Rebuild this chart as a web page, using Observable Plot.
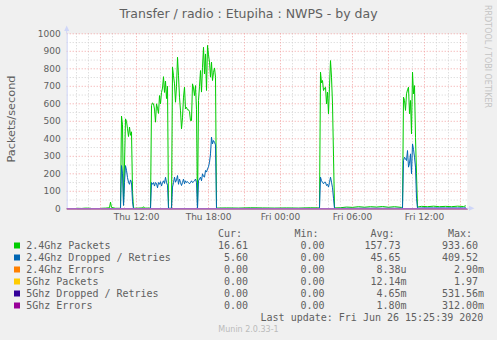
<!DOCTYPE html>
<html><head><meta charset="utf-8">
<script src="https://cdn.jsdelivr.net/npm/d3@7"></script>
<script src="https://cdn.jsdelivr.net/npm/@observablehq/plot@0.6"></script>
<style>
html,body{margin:0;padding:0;background:#f0f0f0;}
#wrap{position:relative;width:497px;height:340px;overflow:hidden;background:#f0f0f0;}
#chart svg{display:block;}
#over{position:absolute;left:0;top:0;font-family:"DejaVu Sans",sans-serif;}
</style></head><body>
<div id="wrap"><div id="chart"></div><svg id="over" width="497" height="340"></svg></div>
<script>
const title = "Transfer / radio : Etupiha : NWPS - by day";
const yLabel = "Packets/second";
const watermark = "RRDTOOL / TOBI OETIKER";
const lastUpdate = "Last update: Fri Jun 26 15:25:39 2020";
const footer = "Munin 2.0.33-1";

const seriesNames = ["2.4Ghz Packets","2.4Ghz Dropped / Retries","2.4Ghz Errors","5Ghz Packets","5Ghz Dropped / Retries","5Ghz Errors"];
const seriesColors = ["#00CC00","#0066B3","#FF8000","#FFCC00","#330099","#990099"];
const statHeaders = ["Cur:","Min:","Avg:","Max:"];
const curVals = ["16.61","5.60","0.00","0.00","0.00","0.00"];
const minVals = ["0.00","0.00","0.00","0.00","0.00","0.00"];
const avgVals = ["157.73","45.65","8.38u","12.14m","4.65m","1.80m"];
const maxVals = ["933.60","409.52","2.90m","1.97","531.56m","312.00m"];

const yTicks = [0,100,200,300,400,500,600,700,800,900,1000];
const xTickLabels = ["Thu 12:00","Thu 18:00","Fri 00:00","Fri 06:00","Fri 12:00"];
const domainStart = "Thu 06:13:30";
const domainEnd = "Fri 15:33:30";

const times = [
"Thu 07:05","Thu 07:25","Thu 07:45","Thu 08:10","Thu 08:35",
"Thu 09:05","Thu 09:25","Thu 09:45","Thu 09:50","Thu 09:55","Thu 10:15","Thu 10:40",
"Thu 10:45","Thu 10:50","Thu 10:55","Thu 11:00","Thu 11:05","Thu 11:10","Thu 11:15","Thu 11:20","Thu 11:25","Thu 11:30","Thu 11:35","Thu 11:40","Thu 11:45",
"Thu 12:10","Thu 12:30","Thu 12:35","Thu 12:40","Thu 13:10",
"Thu 13:15","Thu 13:20","Thu 13:25","Thu 13:30","Thu 13:35","Thu 13:40","Thu 13:45","Thu 13:50","Thu 13:55","Thu 14:00","Thu 14:05","Thu 14:10","Thu 14:15","Thu 14:20","Thu 14:25","Thu 14:30","Thu 14:35","Thu 14:40","Thu 14:55",
"Thu 15:00","Thu 15:05","Thu 15:10","Thu 15:15","Thu 15:20","Thu 15:25","Thu 15:30","Thu 15:35","Thu 15:40","Thu 15:45","Thu 15:50","Thu 15:55","Thu 16:00","Thu 16:05","Thu 16:10","Thu 16:15","Thu 16:20","Thu 16:25","Thu 16:30","Thu 16:35","Thu 16:40","Thu 16:45","Thu 16:50","Thu 16:55","Thu 17:00","Thu 17:05",
"Thu 17:10","Thu 17:15","Thu 17:20","Thu 17:25","Thu 17:30","Thu 17:35","Thu 17:40","Thu 17:45","Thu 17:50","Thu 17:55","Thu 18:00","Thu 18:05","Thu 18:10","Thu 18:15","Thu 18:20","Thu 18:25","Thu 18:30","Thu 18:35","Thu 18:40",
"Thu 19:30","Thu 20:30","Thu 21:30","Thu 22:30","Thu 23:30","Fri 00:30","Fri 01:30","Fri 02:30","Fri 03:15",
"Fri 03:20","Fri 03:25","Fri 03:30","Fri 03:35","Fri 03:40","Fri 03:45","Fri 03:50","Fri 03:55","Fri 04:00","Fri 04:05","Fri 04:10","Fri 04:15","Fri 04:20","Fri 04:25","Fri 04:30",
"Fri 05:00","Fri 05:30","Fri 06:00","Fri 06:30","Fri 07:00","Fri 07:30","Fri 08:00","Fri 08:30","Fri 09:00","Fri 09:30","Fri 10:05","Fri 10:10",
"Fri 10:15","Fri 10:20","Fri 10:25","Fri 10:30","Fri 10:35","Fri 10:40","Fri 10:45","Fri 10:50","Fri 10:55","Fri 11:00","Fri 11:05","Fri 11:10","Fri 11:15","Fri 11:20","Fri 11:25",
"Fri 11:45","Fri 12:15","Fri 12:45","Fri 13:15","Fri 13:45","Fri 14:15","Fri 14:45","Fri 15:15","Fri 15:25"
];
const packets24 = [
3,2,4,3,null,
3,4,6,38,8,3,3,
530,480,20,250,514,500,457,413,467,420,440,100,3,
4,5,12,4,4,
590,605,600,570,495,600,575,545,647,600,665,690,755,665,730,630,700,3,3,
809,760,714,609,700,866,760,638,560,457,520,638,695,571,580,566,566,555,504,504,714,690,647,704,566,3,
619,700,790,667,809,923,771,885,676,933.6,880,838,752,838,733,780,805,752,4,
5,4,6,5,4,5,4,6,5,
781,720,733,676,690,695,600,667,543,700,847,752,600,300,5,
6,10,8,12,9,12,10,13,9,12,8,10,
638,619,562,657,680,695,543,619,428,781,657,704,409,200,10,
14,12,15,12,14,12,15,13,16.61
];
const dropped24 = [
1,1,1,1,null,
1,1,1,2,1,1,1,
247,200,20,150,247,220,178,152,140,165,150,40,1,
1,1,1,1,1,
150,140,150,130,150,145,120,150,140,155,130,150,160,145,180,150,135,1,1,
124,150,181,152,165,190,140,170,150,133,150,170,143,160,150,155,150,143,150,160,150,155,160,170,150,1,
160,170,181,160,200,185,181,219,210,228,240,266,314,409.5,371,390,380,365,2,
2,2,2,2,2,2,2,2,2,
181,160,152,143,152,152,133,140,124,150,181,152,120,60,2,
2,3,2,3,3,3,3,3,3,3,3,3,
276,295,285,276,333,238,260,314,200,371,340,295,238,60,3,
5,5,5,5,5,5,5,5,5.6
];

function parseT(s) {
  const [d, t] = s.split(" ");
  const [h, m, sec = 0] = t.split(":").map(Number);
  return new Date(2020, 5, d === "Thu" ? 25 : 26, h, m, sec);
}
const x0 = parseT(domainStart), x1 = parseT(domainEnd);
const data = times.map((t, i) => ({t: parseT(t), g: packets24[i], b: dropped24[i]}));
const zeroData = [{t: x0, v: 0}, {t: x1, v: 0}];
const hours = d3.timeHour.range(x0, x1);
const minorX = hours.filter(d => d.getHours() % 3 !== 0);
const majorX = hours.filter(d => d.getHours() % 3 === 0);
const minorY = yTicks.slice(0, -1).map(v => v + 50);
const majorY = yTicks.slice(1);
const xTicks = xTickLabels.map(parseT);

const gridMinor = "#d2d2d2", gridMajor = "#f2a3a3", axisCol = "#CFD6F8";

const chart = Plot.plot({
  width: 497, height: 225,
  marginLeft: 66.7, marginRight: 30.3, marginTop: 33.3, marginBottom: 16.7,
  style: {background: "transparent", fontFamily: "DejaVu Sans", fontSize: "9px", color: "#606060", overflow: "visible"},
  x: {type: "time", domain: [x0, x1]},
  y: {domain: [0, 1000]},
  marks: [
    Plot.frame({fill: "white", stroke: "none"}),
    Plot.ruleY(minorY, {stroke: gridMinor, strokeDasharray: "1,2"}),
    Plot.ruleX(minorX, {stroke: gridMinor, strokeDasharray: "1,2"}),
    Plot.ruleY(majorY, {stroke: gridMajor, strokeDasharray: "1,2"}),
    Plot.ruleX(majorX, {stroke: gridMajor, strokeDasharray: "1,2"}),
    Plot.ruleX([x0], {stroke: axisCol}),
    Plot.ruleY([0], {stroke: axisCol}),
    Plot.axisY({ticks: yTicks, tickFormat: d => String(d), tickSize: 0, tickPadding: 6.5, label: null}),
    Plot.axisX({ticks: xTicks, tickFormat: d3.timeFormat("%a %H:%M"), tickSize: 0, tickPadding: 5, label: null}),
    Plot.line(data, {x: "t", y: "g", stroke: seriesColors[0], strokeWidth: 1}),
    Plot.line(data, {x: "t", y: "b", stroke: seriesColors[1], strokeWidth: 1}),
    Plot.line(zeroData, {x: "t", y: "v", stroke: seriesColors[2], strokeWidth: 1}),
    Plot.line(zeroData, {x: "t", y: "v", stroke: seriesColors[3], strokeWidth: 1}),
    Plot.line(zeroData, {x: "t", y: "v", stroke: seriesColors[4], strokeWidth: 1}),
    Plot.line(zeroData, {x: "t", y: "v", stroke: "#bb77dd", strokeWidth: 1.3})
  ]
});
document.getElementById("chart").appendChild(chart);

const ov = d3.select("#over");
const txt = "#606060";
ov.append("text").attr("x", 248.5).attr("y", 18.3).attr("text-anchor", "middle")
  .attr("font-size", 12.5).attr("fill", txt).text(title);
ov.append("text").attr("transform", "translate(15,119) rotate(-90)").attr("text-anchor", "middle")
  .attr("font-size", 11.3).attr("fill", txt).text(yLabel);
ov.append("text").attr("transform", "translate(485.3,5) rotate(90)").attr("text-anchor", "start")
  .attr("font-size", 8).attr("fill", "#c4c4c4").text(watermark);
// axis arrows
ov.append("line").attr("x1", 66.7).attr("x2", 66.7).attr("y1", 33.3).attr("y2", 29).attr("stroke", axisCol);
ov.append("path").attr("d", "M64.2,31 L66.7,25.5 L69.2,31 Z").attr("fill", axisCol);
ov.append("line").attr("x1", 466.7).attr("x2", 470).attr("y1", 208.3).attr("y2", 208.3).attr("stroke", axisCol);
ov.append("path").attr("d", "M469,205.8 L474.5,208.3 L469,210.8 Z").attr("fill", axisCol);

// legend
const mono = "DejaVu Sans Mono";
const colEnd = [248, 324.6, 400.6, 478];
const cw = 6.02;
const lg = ov.append("g").attr("font-family", mono).attr("font-size", 10).attr("fill", txt);
statHeaders.forEach((h, c) => {
  lg.append("text").attr("x", colEnd[c] - cw).attr("y", 236.7).attr("text-anchor", "end").text(h);
});
const cols = [curVals, minVals, avgVals, maxVals];
seriesNames.forEach((name, i) => {
  const y = 249 + 12 * i;
  lg.append("rect").attr("x", 14).attr("y", y - 6.5).attr("width", 6).attr("height", 6).attr("fill", seriesColors[i]);
  lg.append("text").attr("x", 26.2).attr("y", y).text(name);
  cols.forEach((arr, c) => {
    const m = arr[i].match(/^([\d.]+)([a-zA-Z]?)$/);
    lg.append("text").attr("x", colEnd[c]).attr("y", y).attr("text-anchor", "end").text(m[1]);
    if (m[2]) lg.append("text").attr("x", colEnd[c]).attr("y", y).text(m[2]);
  });
});
lg.append("text").attr("x", 483.3).attr("y", 321).attr("text-anchor", "end").text(lastUpdate);
ov.append("text").attr("x", 248.5).attr("y", 332.3).attr("text-anchor", "middle")
  .attr("font-size", 8).attr("fill", "#bbbbbb").text(footer);
</script>
</body></html>
